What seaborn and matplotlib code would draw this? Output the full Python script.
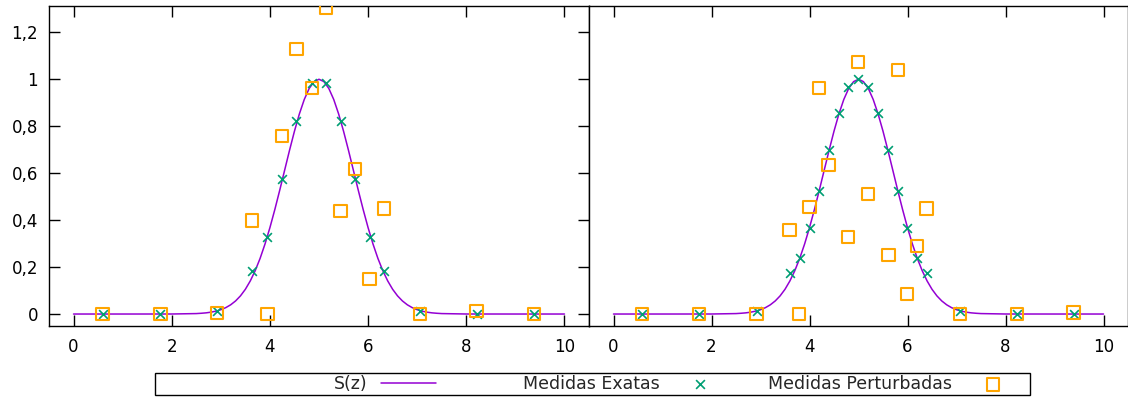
import matplotlib
matplotlib.use("Agg")
import matplotlib.pyplot as plt
from matplotlib.patches import Rectangle
import seaborn as sns

# ---------------- data ----------------
# S(z) curve samples
z_curve = [0.0, 1.0, 2.0, 2.5, 2.6, 2.7, 2.8, 2.9, 3.0, 3.1, 3.2, 3.3, 3.4, 3.5,
           3.6, 3.7, 3.8, 3.9, 4.0, 4.1, 4.2, 4.3, 4.4, 4.5, 4.6, 4.7, 4.8, 4.9,
           5.0, 5.1, 5.2, 5.3, 5.4, 5.5, 5.6, 5.7, 5.8, 5.9, 6.0, 6.1, 6.2, 6.3,
           6.4, 6.5, 6.6, 6.7, 6.8, 6.9, 7.0, 7.1, 7.2, 7.3, 7.4, 7.5, 8.0, 9.0, 10.0]
s_curve = [0.0, 0.0, 0.0001, 0.0019, 0.0032, 0.0050, 0.0079, 0.0122, 0.0183, 0.0271,
           0.0392, 0.0556, 0.0773, 0.1054, 0.1409, 0.1845, 0.2369, 0.2982, 0.3679,
           0.4449, 0.5273, 0.6126, 0.6977, 0.7788, 0.8521, 0.9139, 0.9608, 0.9900,
           1.0, 0.9900, 0.9608, 0.9139, 0.8521, 0.7788, 0.6977, 0.6126, 0.5273,
           0.4449, 0.3679, 0.2982, 0.2369, 0.1845, 0.1409, 0.1054, 0.0773, 0.0556,
           0.0392, 0.0271, 0.0183, 0.0122, 0.0079, 0.0050, 0.0032, 0.0019, 0.0001,
           0.0, 0.0]

# Left panel
z_left = [0.59, 1.77, 2.92, 3.64, 3.95, 4.25, 4.54, 4.85, 5.14, 5.44, 5.73, 6.03,
          6.32, 7.05, 8.21, 9.38]
exact_left = [0.0, 0.0, 0.014, 0.183, 0.33, 0.574, 0.824, 0.983, 0.983, 0.824,
              0.574, 0.33, 0.183, 0.014, 0.0, 0.0]
pert_left = [0.0, 0.0, 0.003, 0.398, 0.0, 0.757, 1.130, 0.962, 1.302, 0.439,
             0.619, 0.148, 0.450, 0.0, 0.012, 0.0]

# Right panel
z_right = [0.58, 1.75, 2.92, 3.61, 3.80, 4.01, 4.20, 4.39, 4.60, 4.79, 4.99, 5.20,
           5.39, 5.61, 5.80, 5.99, 6.20, 6.39, 7.07, 8.23, 9.39]
exact_right = [0.0, 0.0, 0.014, 0.176, 0.239, 0.368, 0.525, 0.699, 0.858, 0.966,
               1.0, 0.966, 0.858, 0.699, 0.525, 0.368, 0.239, 0.176, 0.014, 0.0, 0.0]
z_right_pert = [0.58, 1.75, 2.92, 3.59, 3.78, 4.00, 4.19, 4.39, 4.79, 4.99, 5.20,
                5.61, 5.80, 5.99, 6.20, 6.39, 7.07, 8.23, 9.39]
pert_right = [0.0, 0.0, 0.0, 0.358, 0.0, 0.455, 0.962, 0.636, 0.329, 1.074, 0.511,
              0.251, 1.040, 0.085, 0.290, 0.449, 0.0, 0.0, 0.006]

x_ticks = [0, 2, 4, 6, 8, 10]
y_ticks = [0, 0.2, 0.4, 0.6, 0.8, 1.0, 1.2]
y_tick_labels = ["0", "0,2", "0,4", "0,6", "0,8", "1", "1,2"]

labels = ["S(z)", "Medidas Exatas", "Medidas Perturbadas"]
c_line = "#9400D3"
c_exact = "#009E73"
c_pert = "#FFA500"

# ---------------- style ----------------
sns.set_theme(style="white")
plt.rcParams["font.family"] = ["DejaVu Sans"]
plt.rcParams["axes.edgecolor"] = "black"
plt.rcParams["axes.linewidth"] = 1.0

W, H = 1128, 398
fig = plt.figure(figsize=(W / 100, H / 100), dpi=100)
ax1 = fig.add_axes([49 / W, 1 - 326 / H, 540 / W, 320 / H])
ax2 = fig.add_axes([589 / W, 1 - 326 / H, 539 / W, 320 / H])


def draw(ax, zx, ex, zp, pp):
    sns.lineplot(x=z_curve, y=s_curve, ax=ax, color=c_line, lw=1.1,
                 label=labels[0], sort=False)
    sns.scatterplot(x=zx, y=ex, ax=ax, marker="x", s=40, color=c_exact,
                    linewidth=1.2, label=labels[1], zorder=3)
    sns.scatterplot(x=zp, y=pp, ax=ax, marker="s", s=78, color=c_pert,
                    facecolor="none", edgecolor=c_pert, linewidth=1.5,
                    label=labels[2], zorder=4)
    ax.set_xlim(-0.5, 10.5)
    ax.set_ylim(-0.051, 1.312)
    ax.set_xticks(x_ticks)
    ax.set_xticklabels([str(t) for t in x_ticks])
    ax.set_xlabel("")
    ax.set_ylabel("")
    for s in ax.spines.values():
        s.set_visible(True)
        s.set_color("black")
        s.set_linewidth(1.0)
    ax.tick_params(axis="x", direction="in", length=8, width=1, top=True,
                   bottom=True, labelsize=12, pad=9, colors="black")
    leg = ax.get_legend()
    if leg is not None:
        leg.remove()


draw(ax1, z_left, exact_left, z_left, pert_left)
draw(ax2, z_right, exact_right, z_right_pert, pert_right)

ax1.set_yticks(y_ticks)
ax1.set_yticklabels(y_tick_labels)
ax1.tick_params(axis="y", direction="in", length=8, width=1, left=True,
                right=True, labelsize=12, pad=8, colors="black")
ax2.set_yticks(y_ticks)
ax2.tick_params(axis="y", left=False, right=False, labelleft=False)

# ---------------- legend ----------------
handles, labs = ax1.get_legend_handles_labels()
right_edges = [436, 728, 1020.5]
yc = 1 - 384 / H
for h, l, xr in zip(handles, labs, right_edges):
    fig.legend(handles=[h], labels=[l], loc="center right",
               bbox_to_anchor=(xr / W, yc), frameon=False, markerfirst=False,
               handlelength=3.17, handletextpad=0.75, borderpad=0,
               borderaxespad=0, fontsize=12.5, scatterpoints=1)
fig.add_artist(Rectangle((155 / W, 1 - 395 / H), 875 / W, 22 / H,
                         transform=fig.transFigure, fill=False,
                         edgecolor="black", linewidth=1.0))

fig.savefig("out.png", dpi=100)
